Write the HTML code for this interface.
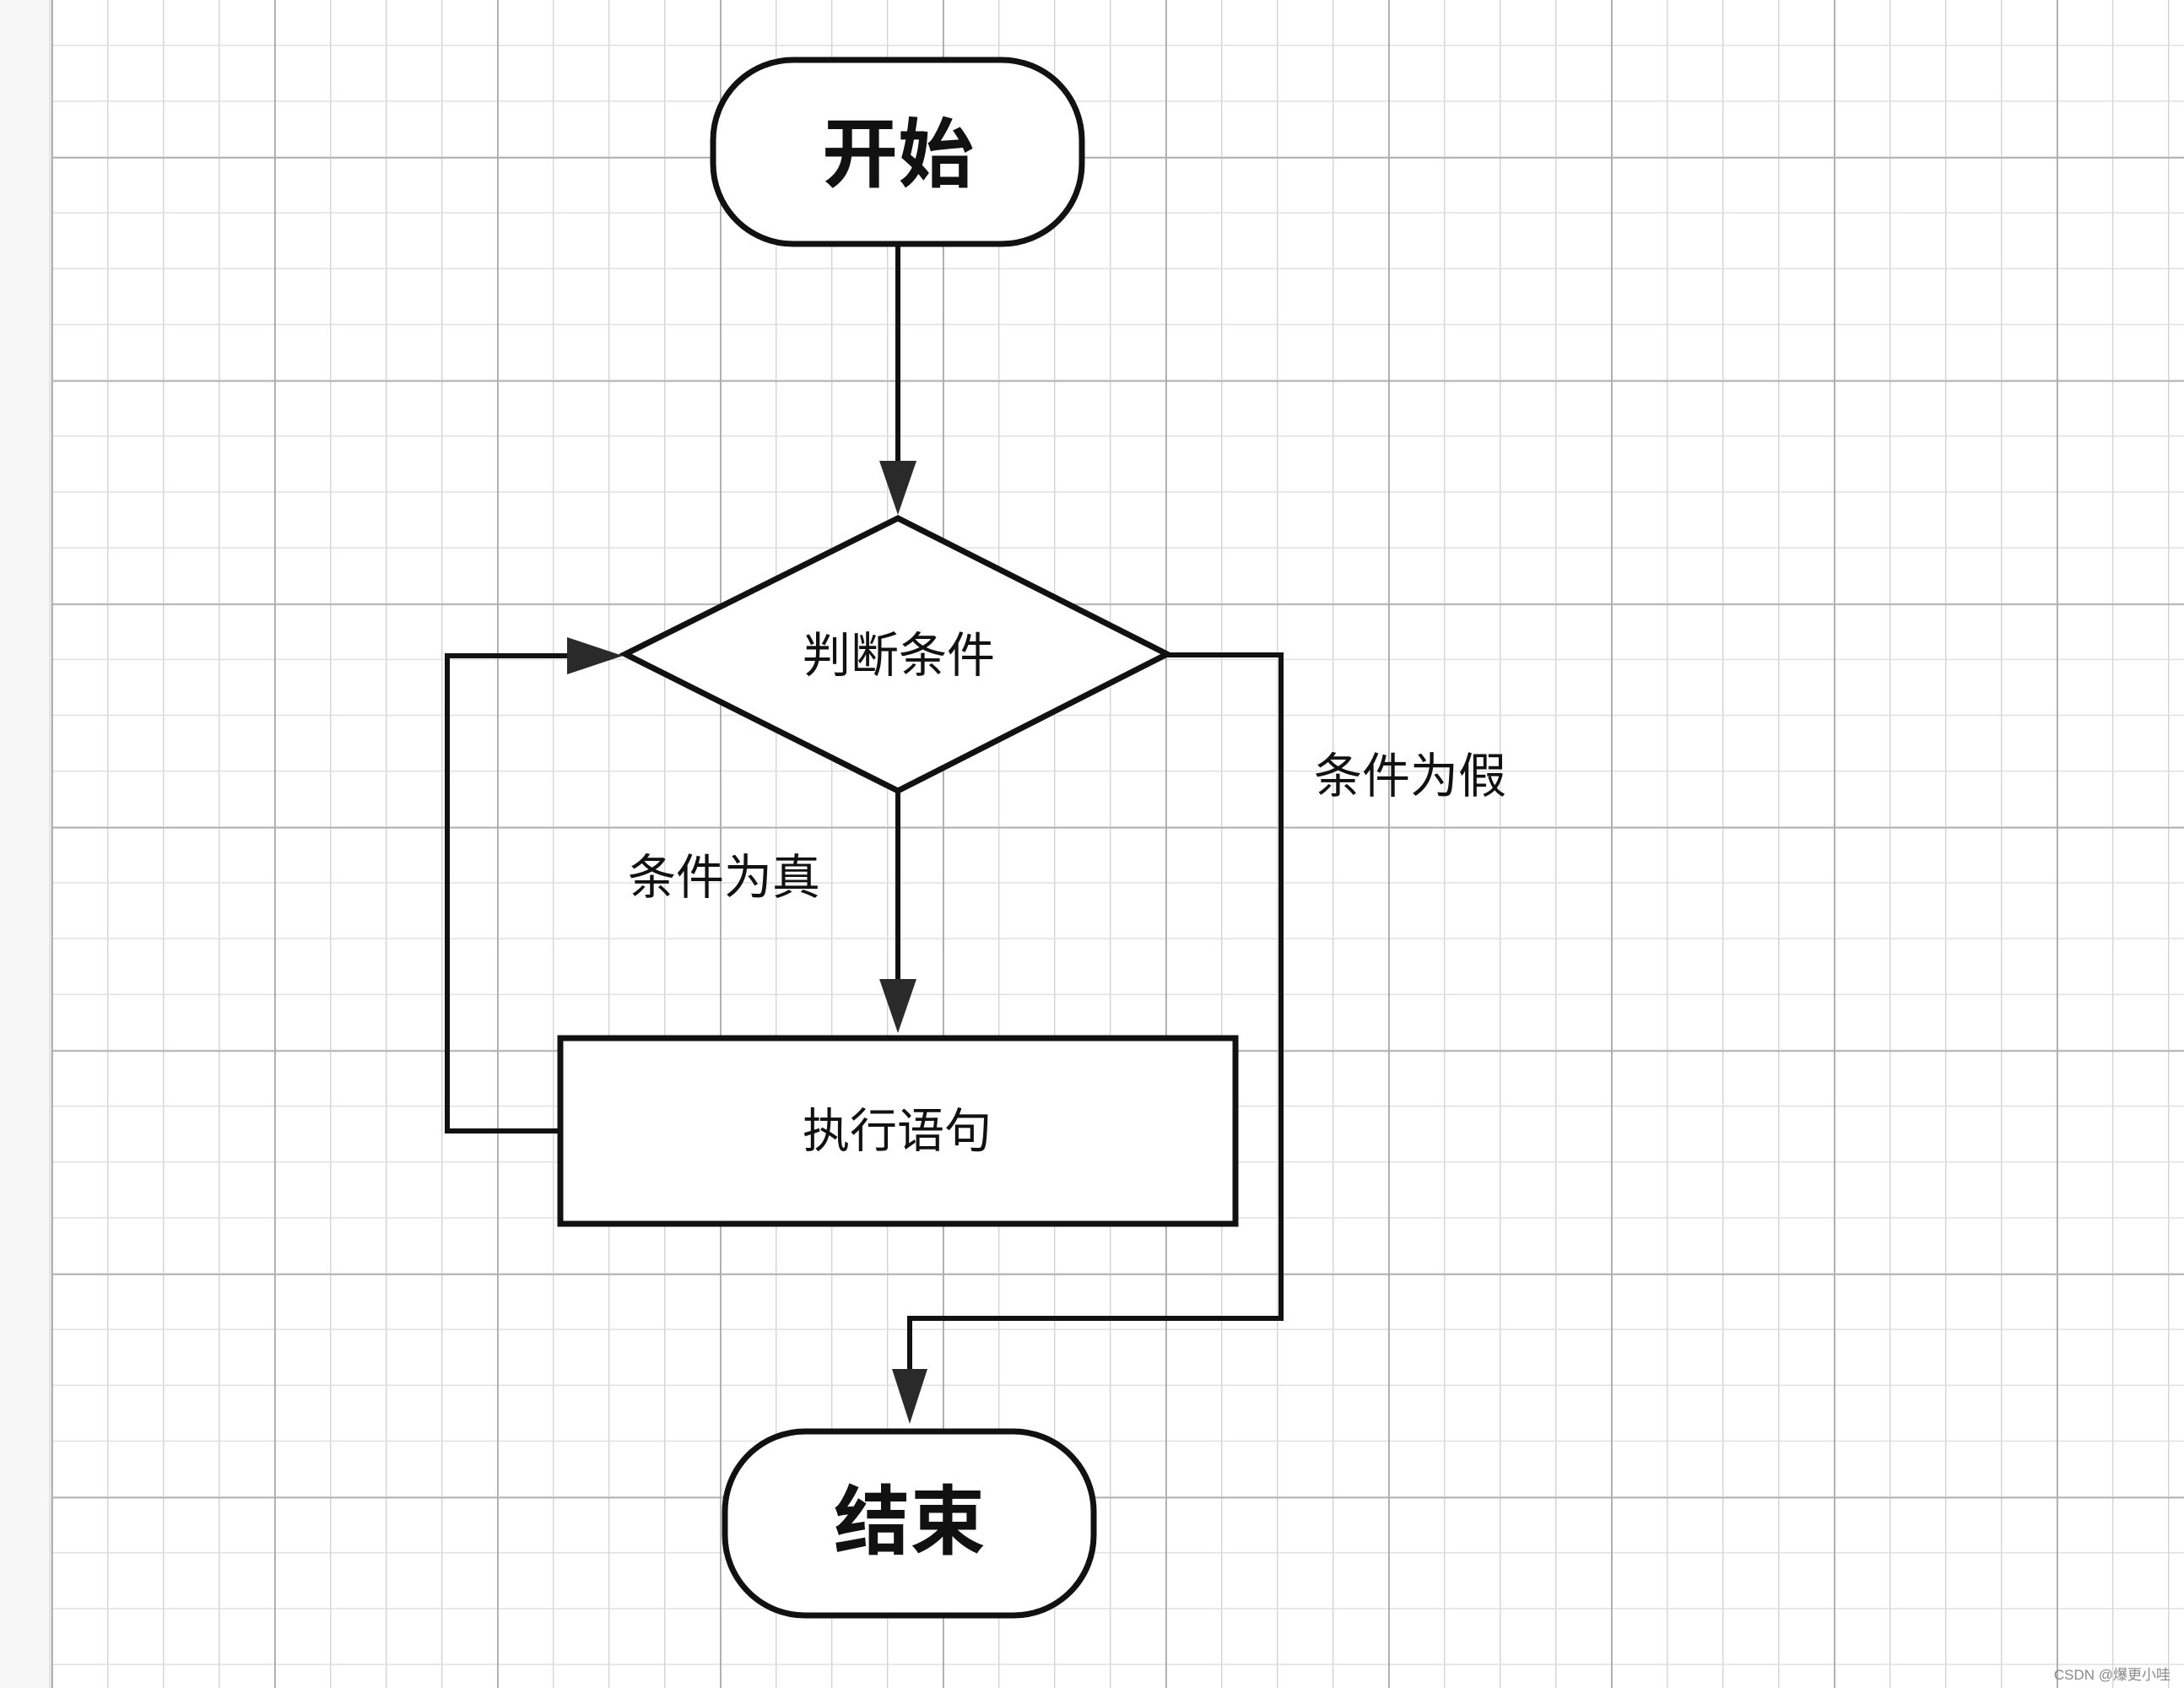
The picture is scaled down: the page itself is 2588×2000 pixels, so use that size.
<!DOCTYPE html>
<html><head><meta charset="utf-8"><style>
html,body{margin:0;padding:0;background:#fff;}
svg{display:block;}
text{font-family:"Liberation Sans","Noto Sans CJK SC",sans-serif;fill:#111;}
</style></head><body>
<svg width="2588" height="2000" viewBox="0 0 2588 2000" xmlns="http://www.w3.org/2000/svg">
<defs>
<pattern id="minor" patternUnits="userSpaceOnUse" x="61" y="53" width="66" height="66.15">
<rect x="0" y="0" width="1.4" height="66.15" fill="#d4d4d4"/>
<rect x="0" y="0" width="66" height="1.4" fill="#dedede"/>
</pattern>
<pattern id="major" patternUnits="userSpaceOnUse" x="325" y="186" width="264" height="264.6">
<rect x="0" y="0" width="1.8" height="264.6" fill="#a8a8a8"/>
<rect x="0" y="0" width="264" height="1.8" fill="#b0b0b0"/>
</pattern>
</defs>
<rect x="0" y="0" width="2588" height="2000" fill="#fff"/>
<rect x="0" y="0" width="61" height="2000" fill="#f7f7f7"/>
<rect x="58" y="0" width="3" height="2000" fill="#e6e6e6"/>
<rect x="61" y="0" width="2527" height="2000" fill="url(#minor)"/>
<rect x="61" y="0" width="2527" height="2000" fill="url(#major)"/>

<g stroke="#111" stroke-width="6" fill="none" stroke-linejoin="miter">
<line x1="1064" y1="291" x2="1064" y2="548"/>
<line x1="1064" y1="937" x2="1064" y2="1160"/>
<polyline points="662,1340 530,1340 530,777 676,777"/>
<polyline points="1383,776 1518,776 1518,1562 1078,1562 1078,1626"/>
</g>
<g fill="#2a2a2a">
<polygon points="1042,546 1086,546 1064,610"/>
<polygon points="1042,1160 1086,1160 1064,1224"/>
<polygon points="672,755 672,799 738,777"/>
<polygon points="1057,1622 1099,1622 1078,1687"/>
</g>

<rect x="845" y="71" width="437" height="218" rx="95" ry="95" fill="#fff" stroke="#111" stroke-width="7"/>
<polygon points="1064,614 1383,775 1064,937 741,775" fill="#fff" stroke="#111" stroke-width="7" stroke-linejoin="miter"/>
<rect x="664" y="1230" width="800" height="220" fill="#fff" stroke="#111" stroke-width="7"/>
<rect x="859" y="1696" width="437" height="218" rx="95" ry="95" fill="#fff" stroke="#111" stroke-width="7"/>

<text x="1064" y="184" font-size="90" font-weight="bold" text-anchor="middle" dominant-baseline="central">开始</text>
<text x="1065" y="777" font-size="57" text-anchor="middle" dominant-baseline="central">判断条件</text>
<text x="858" y="1040" font-size="57" text-anchor="middle" dominant-baseline="central">条件为真</text>
<text x="1671" y="920" font-size="57" text-anchor="middle" dominant-baseline="central">条件为假</text>
<text x="1063" y="1340" font-size="56" text-anchor="middle" dominant-baseline="central">执行语句</text>
<text x="1078" y="1804" font-size="90" font-weight="bold" text-anchor="middle" dominant-baseline="central">结束</text>
<text x="2572" y="1990" font-size="17" text-anchor="end" style="fill:#888">CSDN @爆更小哇</text>
</svg>
</body></html>
